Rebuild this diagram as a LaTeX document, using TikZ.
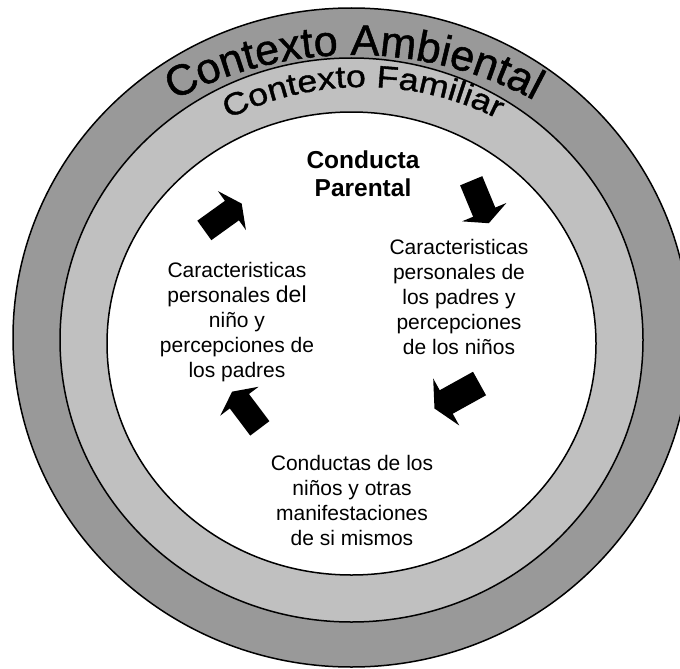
\documentclass[tikz,border=0pt]{standalone}
\usepackage{fontspec}
\setmainfont{Liberation Sans}
\newfontfamily\ambfont[FakeBold=1.2]{Liberation Sans}
\newfontfamily\famfont[FakeStretch=1.15,FakeBold=1.2]{Liberation Sans}
\usetikzlibrary{decorations.text}
\definecolor{darkband}{HTML}{999999}
\definecolor{lightband}{HTML}{C0C0C0}
\tikzset{
  band/.style={draw=black, line width=1.5pt},
  bodytext/.style={align=center, font=\fontsize{21}{25}\selectfont, inner sep=0pt},
  blockarrow/.pic={\fill[black] (-23,-12) -- (11,-12) -- (11,-24) -- (23,0) -- (11,24) -- (11,12) -- (-23,12) -- cycle;}
}
\begin{document}
\begin{tikzpicture}[x=1pt,y=1pt]
\useasboundingbox (0,0) rectangle (680,-669);
\clip (0,0) rectangle (680,-669);
\draw[band, fill=darkband] (351.5,-337.5) ellipse [x radius=338.5, y radius=329.5];
\draw[band, fill=lightband] (351.5,-340) ellipse [x radius=291.5, y radius=282];
\draw[band, fill=white] (351.5,-343.5) ellipse [x radius=244.5, y radius=231.5];

\path[decorate, decoration={text along path, text align=center,
  text={|\ambfont\fontsize{43}{43}\selectfont|Contexto Ambiental}}]
  ([shift={(119:380)}]354,-435) arc[start angle=119, end angle=61, radius=380];
\path[decorate, decoration={text along path, text align=center,
  text={|\famfont\fontsize{31}{31}\selectfont|Contexto Familiar}}]
  ([shift={(120:300)}]363,-387) arc[start angle=120, end angle=60, radius=300];

\node[bodytext, font=\bfseries\fontsize{24.5}{28}\selectfont] (cp) at (363,-174) {Conducta\\Parental};
\node[bodytext] (rt) at (459,-297) {Caracteristicas\\personales de\\los padres y\\percepciones\\de los niños};
\node[bodytext] (bt) at (352,-500) {Conductas de los\\niños y otras\\manifestaciones\\de si mismos};
\node[bodytext] (lt) at (237,-322) {Caracteristicas\\personales {\fontsize{23}{25}\selectfont del}\\niño y\\percepciones de\\los padres};

\pic[rotate=35.7] at (223,-217) {blockarrow};
\pic[rotate=-67.5] at (480,-202) {blockarrow};
\pic[rotate=209, scale=1.12] at (457,-396) {blockarrow};
\pic[rotate=127] at (246,-410) {blockarrow};
\end{tikzpicture}
\end{document}
